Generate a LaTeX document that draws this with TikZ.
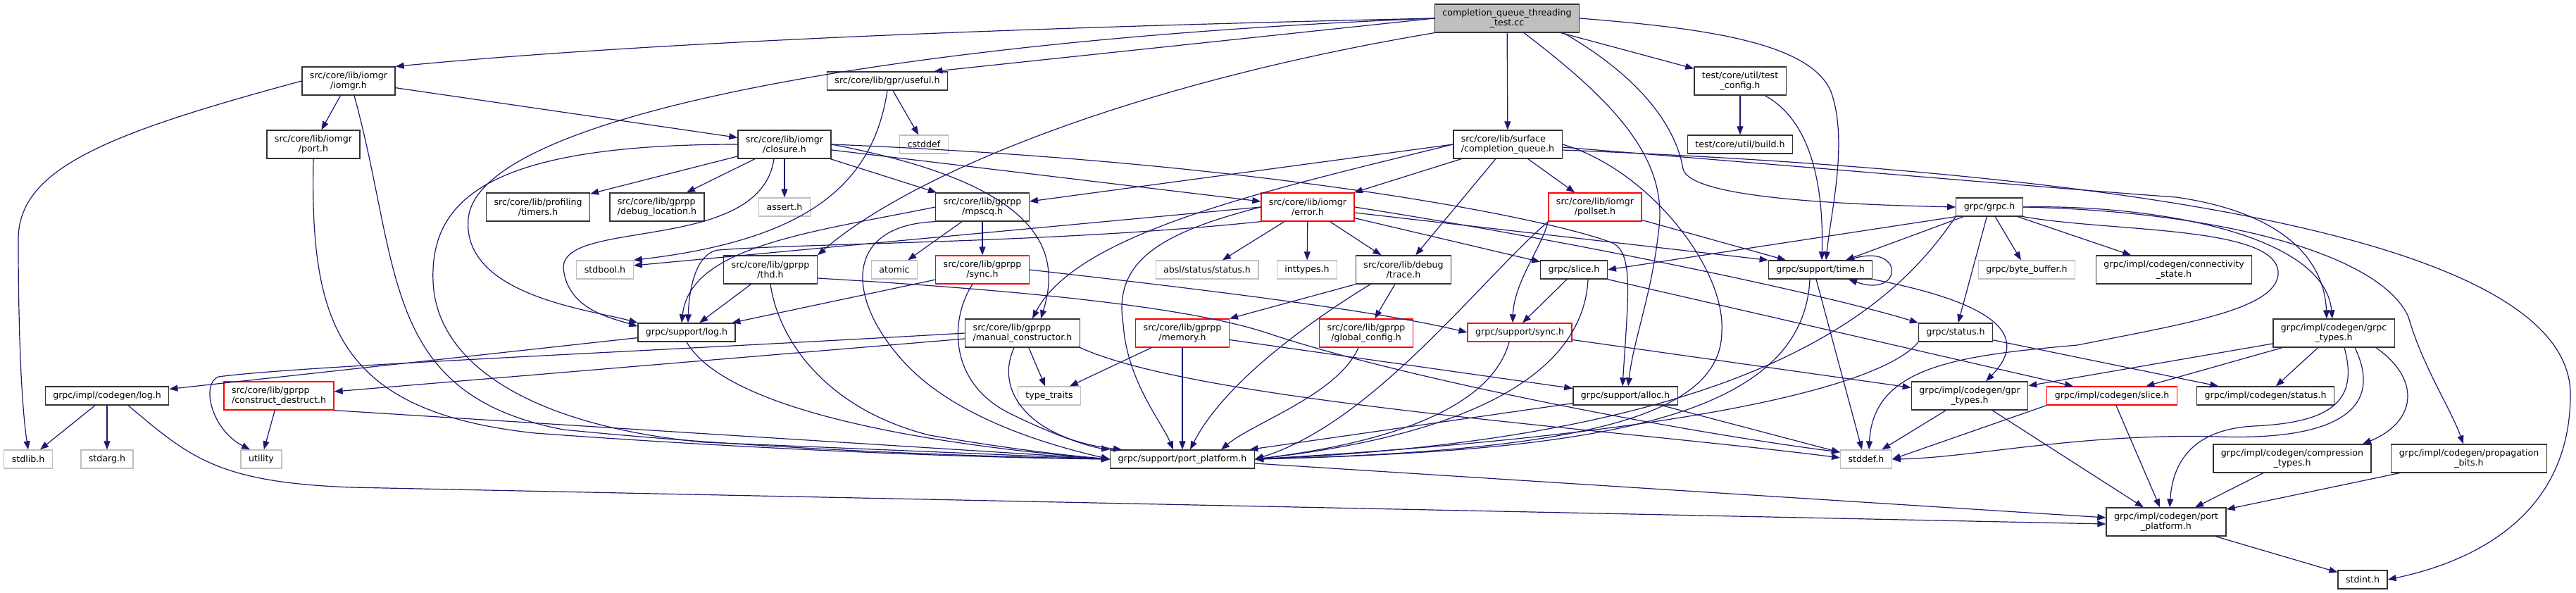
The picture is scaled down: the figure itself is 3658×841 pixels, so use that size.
\documentclass[tikz,border=0pt]{standalone}
\usepackage{fontspec}
\setmainfont{DejaVu Sans}
\usetikzlibrary{arrows.meta}
\definecolor{edgeblue}{RGB}{25,25,112}
\definecolor{grey75}{RGB}{191,191,191}
\begin{document}
\begin{tikzpicture}[x=1pt, y=-1pt,
    file/.style={rectangle, draw=black!80, line width=1.3pt, fill=white, align=center, font=\fontsize{12.6}{14.3}\selectfont, inner xsep=11pt, inner ysep=3pt, minimum height=26pt},
    two/.style={minimum height=40pt},
    sysfile/.style={file, draw=grey75},
    cutfile/.style={file, draw=red},
    mainfile/.style={file, fill=grey75},
    inc/.style={draw=edgeblue, line width=1.2pt, -{Triangle[length=12pt, width=9pt]}}]
    \useasboundingbox (0,0) rectangle (3658,841);
    % Place nodes
    \node [mainfile, two] (cqtest) at (2140,26) {completion\_queue\_threading\\\_test.cc};
    \node [file, two] (iomgr) at (495,115) {src/core/lib/iomgr\\/iomgr.h};
    \node [file] (useful) at (1260,115) {src/core/lib/gpr/useful.h};
    \node [file, two] (testcfg) at (2471,115) {test/core/util/test\\\_config.h};
    \node [file, two] (port) at (445,205) {src/core/lib/iomgr\\/port.h};
    \node [file, two] (closure) at (1114,205) {src/core/lib/iomgr\\/closure.h};
    \node [sysfile] (cstddef) at (1312,205) {cstddef};
    \node [file, two, align=left] (cq) at (2141,205) {src/core/lib/surface\\/completion\_queue.h};
    \node [file] (build) at (2471,205) {test/core/util/build.h};
    \node [file, two] (timers) at (764,294) {src/core/lib/profiling\\/timers.h};
    \node [file, two, align=left] (debugloc) at (933,294) {src/core/lib/gprpp\\/debug\_location.h};
    \node [sysfile] (asserth) at (1114,294) {assert.h};
    \node [file, two] (mpscq) at (1395,294) {src/core/lib/gprpp\\/mpscq.h};
    \node [cutfile, two] (error) at (1857,294) {src/core/lib/iomgr\\/error.h};
    \node [cutfile, two] (pollset) at (2265,294) {src/core/lib/iomgr\\/pollset.h};
    \node [file] (grpch) at (2825,294) {grpc/grpc.h};
    \node [sysfile] (stdbool) at (859,383) {stdbool.h};
    \node [file, two] (thd) at (1094,383) {src/core/lib/gprpp\\/thd.h};
    \node [sysfile] (atomic) at (1270,383) {atomic};
    \node [cutfile, two] (gsync) at (1395,383) {src/core/lib/gprpp\\/sync.h};
    \node [sysfile] (abslstatus) at (1714,383) {absl/status/status.h};
    \node [sysfile] (inttypes) at (1856,383) {inttypes.h};
    \node [file, two] (trace) at (1993,383) {src/core/lib/debug\\/trace.h};
    \node [file] (slice) at (2235,383) {grpc/slice.h};
    \node [file] (time) at (2585,383) {grpc/support/time.h};
    \node [sysfile] (bytebuf) at (2878,383) {grpc/byte\_buffer.h};
    \node [file, two] (connstate) at (3087,383) {grpc/impl/codegen/connectivity\\\_state.h};
    \node [file] (slog) at (975,472) {grpc/support/log.h};
    \node [file, two, align=left] (manual) at (1452,473) {src/core/lib/gprpp\\/manual\_constructor.h};
    \node [cutfile, two] (memory) at (1679,473) {src/core/lib/gprpp\\/memory.h};
    \node [cutfile, two] (globalcfg) at (1940,473) {src/core/lib/gprpp\\/global\_config.h};
    \node [cutfile] (ssync) at (2158,472) {grpc/support/sync.h};
    \node [file] (gstatus) at (2777,472) {grpc/status.h};
    \node [file, two] (grpctypes) at (3314,473) {grpc/impl/codegen/grpc\\\_types.h};
    \node [file] (clog) at (152,562) {grpc/impl/codegen/log.h};
    \node [cutfile, two, align=left] (construct) at (396,562) {src/core/lib/gprpp\\/construct\_destruct.h};
    \node [sysfile] (typetraits) at (1490,562) {type\_traits};
    \node [file] (alloc) at (2308,562) {grpc/support/alloc.h};
    \node [file, two] (gprtypes) at (2797,562) {grpc/impl/codegen/gpr\\\_types.h};
    \node [cutfile] (cslice) at (2999,562) {grpc/impl/codegen/slice.h};
    \node [file] (cstatus) at (3217,562) {grpc/impl/codegen/status.h};
    \node [sysfile] (stdlib) at (40,652) {stdlib.h};
    \node [sysfile] (stdarg) at (152,652) {stdarg.h};
    \node [sysfile] (utility) at (371,652) {utility};
    \node [file] (pp) at (1679,652) {grpc/support/port\_platform.h};
    \node [sysfile] (stddef) at (2650,652) {stddef.h};
    \node [file, two] (compression) at (3255,651) {grpc/impl/codegen/compression\\\_types.h};
    \node [file, two] (propagation) at (3506,651) {grpc/impl/codegen/propagation\\\_bits.h};
    \node [file, two] (cpp) at (3076,741) {grpc/impl/codegen/port\\\_platform.h};
    \node [file] (stdint) at (3355,823) {stdint.h};

    % Includes of the test file
    \draw [inc] (cqtest.west) .. controls (1400,40) and (900,62) .. (iomgr.north east);
    \draw [inc] (cqtest.west) -- ([xshift=-20pt]useful.north east);
    \draw [inc] (cqtest.west) .. controls (1300,55) and (680,160) .. (665,310) .. controls (655,420) and (840,440) .. (slog.north west);
    \draw [inc] (cqtest.south west) .. controls (1600,120) and (1290,250) .. (thd.north east);
    \draw [inc] (cqtest) -- (cq);
    \draw [inc] ([xshift=24pt]cqtest.south) .. controls (2300,150) and (2370,230) .. (2355,330) .. controls (2345,420) and (2320,480) .. ([xshift=4pt]alloc.north);
    \draw [inc] (cqtest) -- (testcfg);
    \draw [inc] (cqtest.east) .. controls (2420,40) and (2570,60) .. (2600,130) .. controls (2625,200) and (2600,300) .. ([xshift=8pt]time.north);
    \draw [inc] ([xshift=80pt]cqtest.south) .. controls (2330,110) and (2380,180) .. (2390,240) .. controls (2400,280) and (2600,290) .. (grpch.west);
    \draw [inc] (testcfg) -- (build);
    \draw [inc] ([xshift=35pt]testcfg.south) .. controls (2570,170) and (2590,260) .. ([xshift=2pt]time.north);

    % src/core/lib
    \draw [inc] (iomgr) -- (port);
    \draw [inc] (iomgr) -- (closure);
    \draw [inc] (iomgr.west) .. controls (150,190) and (26,240) .. (26,340) .. controls (26,520) and (34,600) .. (stdlib.north);
    \draw [inc] ([xshift=8pt]iomgr.south) .. controls (570,380) and (540,560) .. (800,610) .. controls (1100,640) and (1400,648) .. (pp.west);
    \draw [inc] (port.south) .. controls (440,460) and (480,585) .. (760,615) .. controls (1100,640) and (1400,650) .. (pp.west);
    \draw [inc] (useful) -- (cstddef);
    \draw [inc] (useful.south) .. controls (1240,260) and (1150,340) .. (stdbool.north east);
    \draw [inc] (closure) -- (timers);
    \draw [inc] (closure) -- (debugloc);
    \draw [inc] (closure) -- (asserth);
    \draw [inc] (closure) -- (mpscq);
    \draw [inc] (closure) -- (error);
    \draw [inc] (closure.east) .. controls (1470,260) and (1510,350) .. ([xshift=26pt]manual.north);
    \draw [inc] (closure.east) .. controls (1800,230) and (2200,310) .. (2290,345) .. controls (2320,360) and (2312,420) .. ([xshift=-4pt]alloc.north);
    \draw [inc] ([xshift=-15pt]closure.south) .. controls (1080,360) and (800,310) .. (800,380) .. controls (805,440) and (870,452) .. ([yshift=-5pt]slog.north west);
    \draw [inc] (closure.west) .. controls (700,205) and (610,280) .. (615,400) .. controls (620,520) and (760,605) .. (1000,628) -- (pp.west);
    \draw [inc] (mpscq) -- (atomic);
    \draw [inc] (mpscq) -- (gsync);
    \draw [inc] (mpscq.west) .. controls (1150,330) and (980,350) .. ([xshift=-7pt]slog.north);
    \draw [inc] (mpscq.south west) .. controls (1200,320) and (1200,420) .. (1280,510) .. controls (1350,590) and (1480,630) .. (pp.west);
    \draw [inc] (cq.west) -- ([yshift=8pt]mpscq.east);
    \draw [inc] (cq) -- (error);
    \draw [inc] (cq) -- (trace);
    \draw [inc] (cq) -- (pollset);
    \draw [inc] (cq.west) .. controls (1800,270) and (1530,330) .. ([xshift=14pt]manual.north);
    \draw [inc] (cq.east) .. controls (2340,240) and (2450,380) .. (2445,470) .. controls (2445,590) and (2250,640) .. (pp.east);
    \draw [inc] ([yshift=-4pt]cq.east) .. controls (2600,240) and (2950,270) .. (3090,280) .. controls (3230,300) and (3300,360) .. ([xshift=-10pt]grpctypes.north);
    \draw [inc] ([yshift=-8pt]cq.east) .. controls (2900,240) and (3650,320) .. (3650,560) .. controls (3650,740) and (3500,800) .. (stdint.east);
    \draw [inc] (error) -- (inttypes);
    \draw [inc] (error) -- (trace);
    \draw [inc] (error) -- (abslstatus);
    \draw [inc] (error) -- (slice);
    \draw [inc] ([yshift=-8pt]error.east) -- (time.north west);
    \draw [inc] (error.east) .. controls (2250,345) and (2600,420) .. (gstatus.north west);
    \draw [inc] (error.west) -- ([yshift=6pt]stdbool.east);
    \draw [inc] (error.south west) .. controls (1500,345) and (1150,345) .. (1020,355) .. controls (985,360) and (978,420) .. ([xshift=2pt]slog.north);
    \draw [inc] (error.west) .. controls (1650,330) and (1580,370) .. (1595,460) .. controls (1600,540) and (1650,600) .. ([xshift=-13pt]pp.north);
    \draw [inc] (pollset) -- (time);
    \draw [inc] (pollset.south west) .. controls (2190,350) and (2150,400) .. ([xshift=-10pt]ssync.north);
    \draw [inc] (pollset.south west) .. controls (2100,400) and (1950,600) .. (pp.east);
    \draw [inc] (thd) -- (slog);
    \draw [inc] (thd.south) .. controls (1105,480) and (1170,580) .. (1320,618) .. controls (1450,640) and (1520,647) .. (pp.west);
    \draw [inc] ([yshift=-12pt]thd.east) .. controls (1500,415) and (1700,440) .. (1800,473) .. controls (2000,540) and (2400,615) .. ([yshift=10pt]stddef.west);
    \draw [inc] (gsync) -- (slog);
    \draw [inc] (gsync.east) .. controls (1700,410) and (1950,440) .. (ssync.west);
    \draw [inc] ([xshift=-14pt]gsync.south) .. controls (1350,450) and (1345,540) .. (1430,585) .. controls (1500,620) and (1550,635) .. (pp.north west);
    \draw [inc] (trace) -- (globalcfg);
    \draw [inc] (trace.south west) -- (memory.north east);
    \draw [inc] ([xshift=-47pt]trace.south) .. controls (1870,450) and (1740,540) .. ([xshift=11pt]pp.north);
    \draw [inc] ([xshift=-11pt]globalcfg.south) .. controls (1900,560) and (1780,600) .. ([xshift=55pt]pp.north);
    \draw [inc] (memory) -- (typetraits);
    \draw [inc] (memory) -- (pp);
    \draw [inc] (memory) -- (alloc);
    \draw [inc] (manual) -- (typetraits);
    \draw [inc] ([yshift=-8pt]manual.west) -- ([yshift=6pt]construct.east);
    \draw [inc] (manual.west) .. controls (900,500) and (420,520) .. (310,535) .. controls (285,545) and (300,610) .. ([xshift=-16pt]utility.north);
    \draw [inc] (manual.south east) .. controls (1700,570) and (2300,610) .. ([yshift=2pt]stddef.west);
    \draw [inc] ([xshift=-12pt]manual.south) .. controls (1410,560) and (1470,625) .. ([xshift=-86pt]pp.north);
    \draw [inc] (construct) -- (utility);
    \draw [inc] (construct.south east) -- (pp.west);

    % grpc headers
    \draw [inc] (slog) -- (clog);
    \draw [inc] (slog.south) .. controls (1030,580) and (1300,630) .. (pp.west);
    \draw [inc] (clog) -- (stdlib);
    \draw [inc] (clog) -- (stdarg);
    \draw [inc] ([xshift=30pt]clog.south) .. controls (270,650) and (310,685) .. (500,692) -- ([yshift=-3pt]cpp.west);
    \draw [inc] ([yshift=-6pt]pp.east) -- ([yshift=6pt]cpp.west);
    \draw [inc] (cpp) -- (stdint);
    \draw [inc] ([xshift=-10pt]slice.south) -- ([xshift=4pt]ssync.north);
    \draw [inc] (slice.south east) -- ([xshift=-55pt]cslice.north);
    \draw [inc] ([xshift=20pt]slice.south) .. controls (2250,500) and (2150,610) .. (pp.east);
    \draw [inc] ([xshift=40pt]time.north) .. controls (2705,340) and (2705,425) .. ([xshift=40pt]time.south);
    \draw [inc] ([xshift=-15pt]time.south) .. controls (2560,600) and (2250,640) .. (pp.east);
    \draw [inc] ([xshift=-6pt]time.south) -- ([xshift=-6pt]stddef.north);
    \draw [inc] (time.south east) .. controls (2780,420) and (2900,460) .. ([xshift=23pt]gprtypes.north);
    \draw [inc] (ssync) -- (gprtypes);
    \draw [inc] ([xshift=-15pt]ssync.south) .. controls (2120,570) and (2000,625) .. (pp.east);
    \draw [inc] (alloc) -- (pp);
    \draw [inc] (alloc) -- (stddef);
    \draw [inc] (gstatus) -- (cstatus);
    \draw [inc] (gstatus.south west) .. controls (2690,530) and (2500,610) .. (pp.east);
    \draw [inc] (grpch) -- (bytebuf);
    \draw [inc] (grpch) -- (connstate);
    \draw [inc] (grpch.east) .. controls (3050,290) and (3300,330) .. ([xshift=-2pt]grpctypes.north);
    \draw [inc] (grpch.east) .. controls (3150,300) and (3380,360) .. (3420,450) .. controls (3440,520) and (3480,580) .. ([xshift=-8pt]propagation.north);
    \draw [inc] (grpch) -- (gstatus);
    \draw [inc] (grpch.south west) -- (slice.east);
    \draw [inc] (grpch) -- ([xshift=36pt]time.north);
    \draw [inc] (grpch.south east) .. controls (3000,330) and (3240,320) .. (3235,390) .. controls (3230,440) and (3100,460) .. (2950,490) .. controls (2780,505) and (2660,520) .. ([xshift=4pt]stddef.north);
    \draw [inc] (grpch.south west) .. controls (2700,420) and (2520,620) .. (pp.east);
    \draw [inc] (grpctypes) -- (gprtypes);
    \draw [inc] (grpctypes) -- (cslice);
    \draw [inc] (grpctypes) -- (cstatus);
    \draw [inc] ([xshift=15pt]grpctypes.south) .. controls (3350,570) and (3310,600) .. (3200,605) .. controls (3110,610) and (3085,660) .. ([xshift=5pt]cpp.north);
    \draw [inc] ([xshift=60pt]grpctypes.south) .. controls (3440,540) and (3430,600) .. ([xshift=100pt]compression.north);
    \draw [inc] ([xshift=30pt]grpctypes.south) .. controls (3390,590) and (3300,625) .. (3150,620) .. controls (2950,615) and (2800,650) .. (stddef.east);
    \draw [inc] (gprtypes) -- (cpp);
    \draw [inc] (gprtypes) -- (stddef);
    \draw [inc] (cslice) -- (cpp);
    \draw [inc] (cslice.south west) -- (stddef.east);
    \draw [inc] (compression) -- (cpp);
    \draw [inc] (propagation) -- (cpp);
\end{tikzpicture}
\end{document}
